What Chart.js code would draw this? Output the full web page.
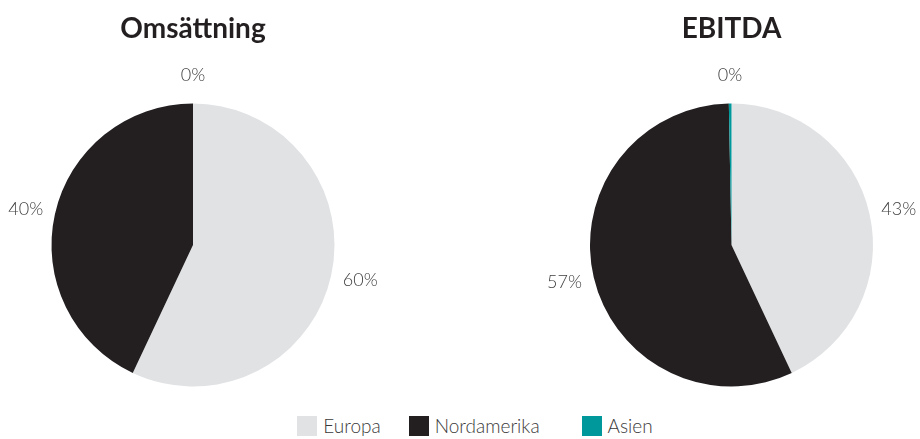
<!DOCTYPE html>
<html>
<head>
<meta charset="utf-8">
<script src="https://cdn.jsdelivr.net/npm/chart.js@4/dist/chart.umd.min.js"></script>
<style>
  html, body { margin: 0; padding: 0; background: #fff; width: 920px; height: 439px; overflow: hidden; }
  #left { position: absolute; left: 0; top: 0; width: 386px; height: 400px; }
  #right { position: absolute; left: 500px; top: 0; width: 420px; height: 400px; }
  #legend {
    position: absolute; left: 0; top: 414px; width: 920px;
    display: flex; justify-content: center;
    font-family: "Lato", sans-serif; font-weight: 300; font-size: 19px; color: #3a3a3a;
    padding-left: 30px; box-sizing: border-box;
  }
  .item { display: flex; align-items: center; margin-right: 28px; }
  .item:nth-child(2) { margin-right: 42px; }
  .item:last-child { margin-right: 0; }
  .box { width: 20px; height: 20px; margin-right: 6px; }
</style>
</head>
<body>
<div id="left"><canvas id="omsChart"></canvas></div>
<div id="right"><canvas id="ebitdaChart"></canvas></div>
<div id="legend"></div>

<script>
const regions = ["Europa", "Nordamerika", "Asien"];
const colors = ["#e1e2e4", "#231f20", "#00989b"];

const omsValues = [57, 43, 0];
const omsLabels = ["60%", "40%", "0%"];

const ebitdaValues = [43, 56.7, 0.3];
const ebitdaLabels = ["43%", "57%", "0%"];

// draws the percent labels just outside each slice
const outsideLabels = {
  id: "outsideLabels",
  afterDatasetsDraw(chart, args, opts) {
    const ctx = chart.ctx;
    const meta = chart.getDatasetMeta(0);
    ctx.save();
    ctx.font = "300 18px Lato, sans-serif";
    ctx.fillStyle = "#404040";
    meta.data.forEach((arc, i) => {
      const p = arc.getProps(["x", "y", "startAngle", "endAngle", "outerRadius"], true);
      const mid = (p.startAngle + p.endAngle) / 2;
      const cx = Math.cos(mid), cy = Math.sin(mid);
      const r = p.outerRadius + 10 + 9 * Math.abs(cy);
      const x = p.x + r * cx;
      const y = p.y + r * cy;
      if (Math.abs(cx) < 0.2) ctx.textAlign = "center";
      else ctx.textAlign = cx > 0 ? "left" : "right";
      ctx.textBaseline = "middle";
      ctx.fillText(opts.labels[i], x, y + cy * 9);
    });
    ctx.restore();
  }
};

function makePie(id, title, values, labels, padLeft) {
  const ctx = document.getElementById(id).getContext("2d");
  return new Chart(ctx, {
    type: "pie",
    data: {
      labels: regions,
      datasets: [{
        data: values,
        backgroundColor: colors,
        borderWidth: 0
      }]
    },
    options: {
      responsive: true,
      maintainAspectRatio: false,
      animation: false,
      layout: { padding: { top: 0, bottom: 13.5, left: padLeft, right: 0 } },
      plugins: {
        legend: { display: false },
        tooltip: { enabled: false },
        title: {
          display: true,
          text: title,
          color: "#231f20",
          font: { family: "Lato", size: 28, weight: "bold", lineHeight: 1.2 },
          padding: { top: 12, bottom: 57.9 }
        },
        outsideLabels: { labels: labels }
      }
    },
    plugins: [outsideLabels]
  });
}

makePie("omsChart", "Omsättning", omsValues, omsLabels, 0);
makePie("ebitdaChart", "EBITDA", ebitdaValues, ebitdaLabels, 43);

const legend = document.getElementById("legend");
regions.forEach((name, i) => {
  const item = document.createElement("div");
  item.className = "item";
  item.innerHTML = `<span class="box" style="background:${colors[i]}"></span>${name}`;
  legend.appendChild(item);
});
</script>
</body>
</html>
